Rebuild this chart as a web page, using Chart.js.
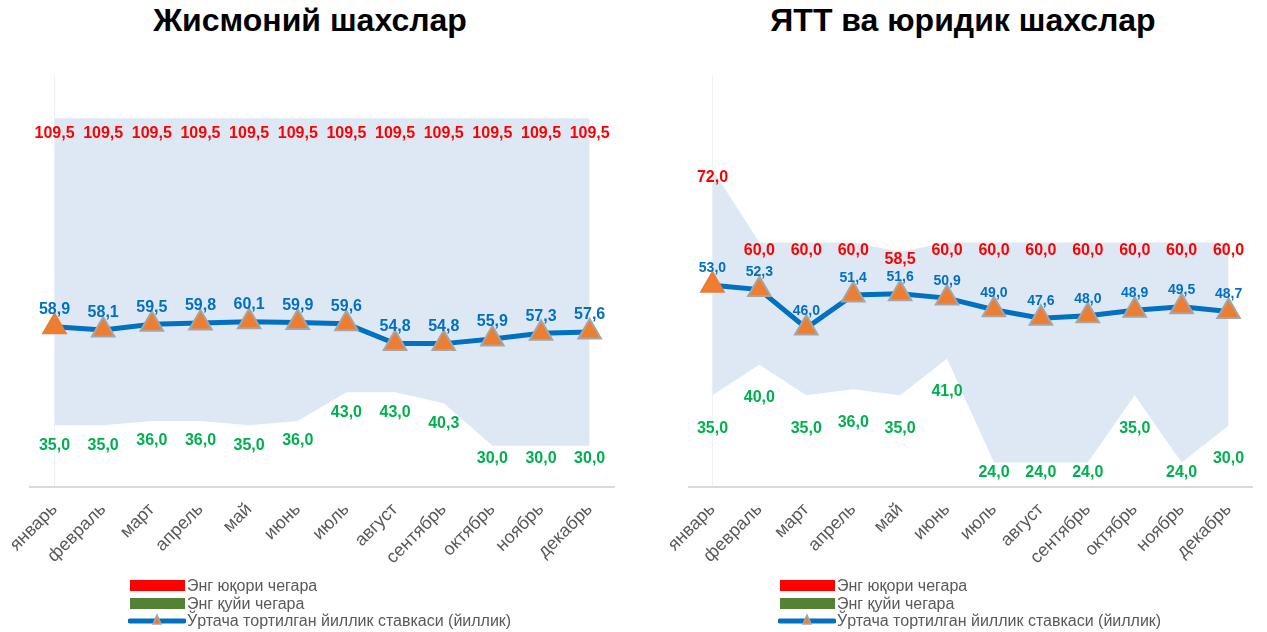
<!DOCTYPE html>
<html>
<head>
<meta charset="utf-8">
<script src="https://cdn.jsdelivr.net/npm/chart.js@4.4.1/dist/chart.umd.min.js"></script>
<style>
  body { margin: 0; width: 1267px; height: 632px; background: #fff; position: relative; overflow: hidden;
         font-family: "Liberation Sans", Arial, sans-serif; }
  .title { position: absolute; top: 2px; font-weight: bold; font-size: 32px; color: #000; white-space: nowrap;
           transform: translateX(-50%); }
  .box { position: absolute; top: 0; height: 632px; }
  .legend { position: absolute; font-size: 16px; color: #595959; }
  .row { position: absolute; height: 18px; white-space: nowrap; }
  .row span { position: absolute; top: 0; line-height: 18px; }
  .sw { position: absolute; top: 3px; height: 11px; width: 55px; }
</style>
</head>
<body>

<div class="title" style="left:310px">Жисмоний шахслар</div>
<div class="title" style="left:963px">ЯТТ ва юридик шахслар</div>

<div class="box" style="left:0;width:633px"><canvas id="leftChart"></canvas></div>
<div class="box" style="left:633px;width:634px"><canvas id="rightChart"></canvas></div>

<div class="legend" id="legLeft" style="left:128px;top:577px"></div>
<div class="legend" id="legRight" style="left:778px;top:577px"></div>

<script>
var months = ['январь','февраль','март','апрель','май','июнь','июль','август','сентябрь','октябрь','ноябрь','декабрь'];

// Жисмоний шахслар
var leftMax = [109.5,109.5,109.5,109.5,109.5,109.5,109.5,109.5,109.5,109.5,109.5,109.5];
var leftMin = [35.0,35.0,36.0,36.0,35.0,36.0,43.0,43.0,40.3,30.0,30.0,30.0];
var leftAvg = [58.9,58.1,59.5,59.8,60.1,59.9,59.6,54.8,54.8,55.9,57.3,57.6];

// ЯТТ ва юридик шахслар
var rightMax = [72.0,60.0,60.0,60.0,58.5,60.0,60.0,60.0,60.0,60.0,60.0,60.0];
var rightMin = [35.0,40.0,35.0,36.0,35.0,41.0,24.0,24.0,24.0,35.0,24.0,30.0];
var rightAvg = [53.0,52.3,46.0,51.4,51.6,50.9,49.0,47.6,48.0,48.9,49.5,48.7];

var legendNames = ['Энг юқори чегара', 'Энг қуйи чегара', 'Ўртача тортилган йиллик ставкаси (йиллик)'];

function fmt(v) { return v.toFixed(1).replace('.', ','); }

// draws the value labels of each dataset
var valueLabels = {
  id: 'valueLabels',
  afterDatasetsDraw: function(chart) {
    var ctx = chart.ctx;
    chart.data.datasets.forEach(function(ds, i) {
      var lc = ds.labelCfg;
      if (!lc) return;
      var meta = chart.getDatasetMeta(i);
      ctx.save();
      ctx.fillStyle = lc.color;
      ctx.font = 'bold ' + lc.size + 'px "Liberation Sans", Arial, sans-serif';
      ctx.textAlign = 'center';
      ctx.textBaseline = 'middle';
      meta.data.forEach(function(pt, j) {
        var y = pt.y + lc.dy;
        if (lc.maxY) y = Math.min(y, lc.maxY);
        ctx.fillText(fmt(ds.data[j]), pt.x, y);
      });
      ctx.restore();
    });
  }
};

function makeChart(id, maxArr, minArr, avgArr, opts) {
  var ctx = document.getElementById(id).getContext('2d');
  return new Chart(ctx, {
    type: 'line',
    data: {
      labels: months,
      datasets: [{
        label: legendNames[1],
        data: minArr,
        order: 2,
        borderWidth: 0,
        pointRadius: 0,
        fill: false,
        labelCfg: { color: '#00B050', size: 16, dy: opts.minDy, maxY: opts.minMaxY }
      }, {
        label: legendNames[0],
        data: maxArr,
        order: 1,
        borderWidth: 0,
        pointRadius: 0,
        backgroundColor: '#DEE8F5',
        fill: '-1',
        labelCfg: { color: '#FF0000', size: 16, dy: opts.maxDy }
      }, {
        label: legendNames[2],
        data: avgArr,
        order: 0,
        borderColor: '#0070C0',
        borderWidth: 5,
        tension: 0,
        fill: false,
        pointStyle: 'triangle',
        pointRadius: 13,
        pointBackgroundColor: '#ED7D31',
        pointBorderColor: function(c) { return c.dataIndex === 0 ? '#ED7D31' : '#A5A5A5'; },
        pointBorderWidth: 2,
        labelCfg: { color: '#0070C0', size: opts.avgSize, dy: -17 }
      }]
    },
    options: {
      responsive: true,
      maintainAspectRatio: false,
      animation: false,
      layout: { padding: { left: opts.padL, right: opts.padR, top: 75, bottom: 4 } },
      plugins: { legend: { display: false }, tooltip: { enabled: false } },
      scales: {
        x: {
          offset: true,
          grid: {
            drawTicks: false,
            color: function(c) { return c.index === 0 ? '#EEF2F8' : 'rgba(0,0,0,0)'; }
          },
          border: { display: true, color: '#D9D9D9', width: 2 },
          afterFit: function(scale) { scale.height = 141; },
          ticks: {
            minRotation: 45, maxRotation: 45, padding: 12,
            color: '#595959',
            font: { family: '"Liberation Sans", Arial, sans-serif', size: 18 }
          }
        },
        y: { display: false, min: 20, max: opts.yMax }
      }
    },
    plugins: [valueLabels]
  });
}

makeChart('leftChart', leftMax, leftMin, leftAvg,
  { padL: 29, padR: 19, yMax: 120, maxDy: 15, minDy: 20, minMaxY: 459, avgSize: 16 });
makeChart('rightChart', rightMax, rightMin, rightAvg,
  { padL: 56, padR: 7, yMax: 87.4, maxDy: 8, minDy: 33, minMaxY: 473, avgSize: 14 });

function buildLegend(elId) {
  var el = document.getElementById(elId);
  var html = '';
  html += '<div class="row" style="top:0"><div class="sw" style="left:2px;background:#FF0000"></div><span style="left:59px">' + legendNames[0] + '</span></div>';
  html += '<div class="row" style="top:18px"><div class="sw" style="left:2px;background:#548235"></div><span style="left:59px">' + legendNames[1] + '</span></div>';
  html += '<div class="row" style="top:35px">' +
    '<svg width="58" height="18" style="position:absolute;left:0;top:0">' +
    '<line x1="2" y1="9" x2="56" y2="9" stroke="#0070C0" stroke-width="5" stroke-linecap="round"/>' +
    '<polygon points="29,3 33,12 25,12" fill="#ED7D31" stroke="#A5A5A5" stroke-width="1.5"/></svg>' +
    '<span style="left:59px">' + legendNames[2] + '</span></div>';
  el.innerHTML = html;
}
buildLegend('legLeft');
buildLegend('legRight');
</script>
</body>
</html>
